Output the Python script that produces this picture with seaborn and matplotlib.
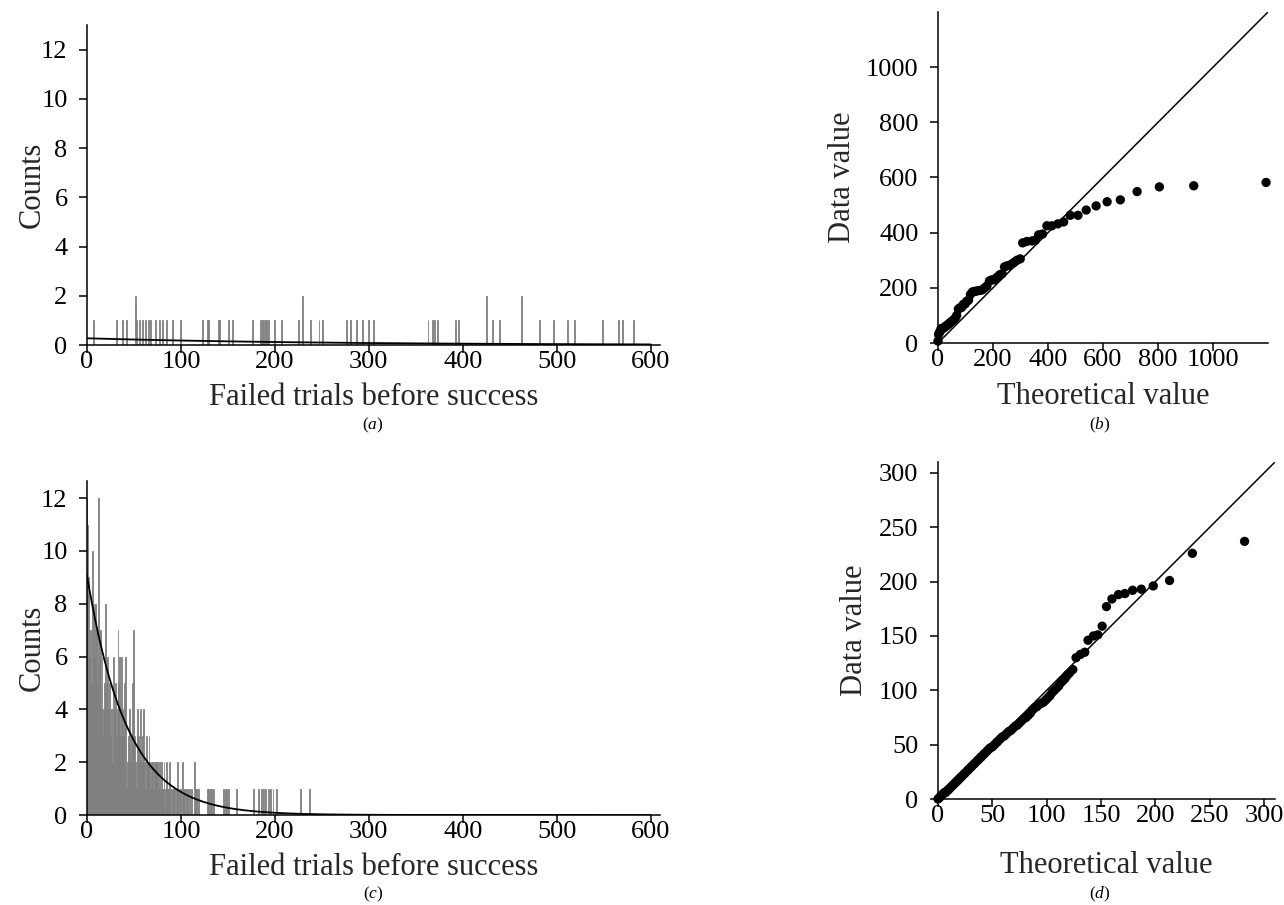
import numpy as np
import pandas as pd
import matplotlib
matplotlib.use("Agg")
import matplotlib.pyplot as plt
import seaborn as sns

# ---------------- data ----------------
# (a) failed trials before success (one entry per observation)
a_values = [7, 31, 38, 42, 52, 52, 53, 56, 59, 62, 65, 68, 73, 77, 80, 85, 91, 100,
            123, 128, 129, 140, 141, 151, 155, 176, 185, 187, 188, 190, 191, 193, 200,
            207, 225, 229, 229, 238, 247, 251, 276, 280, 281, 287, 293, 300, 305, 363,
            368, 370, 373, 392, 395, 425, 425, 432, 439, 463, 463, 482, 497, 512, 519,
            549, 566, 570, 582]

# (b) Q-Q: theoretical quantile for each sorted value of (a)
b_theory = [0, 2, 5, 8, 11, 15, 18, 22, 26, 30, 34, 38, 43, 48, 53, 58, 63, 68,
            74, 80, 86, 92, 98, 104, 111, 118, 125, 132, 139, 146, 154, 162, 170,
            178, 187, 196, 205, 214, 224, 233, 242, 251, 260, 269, 278, 287, 299, 308,
            323, 342, 354, 366, 380, 396, 414, 436, 457, 481, 509, 539, 575, 615, 663,
            724, 805, 930, 1193]

# (c) counts per number of failed trials, 0..119, plus sparse tail (count 1 each)
c_counts = [12, 11, 9, 6, 7, 5, 10, 8, 6, 8,
            7, 5, 12, 6, 7, 4, 6, 3, 4, 5,
            8, 5, 6, 4, 5, 3, 4, 2, 6, 4,
            5, 3, 4, 7, 5, 6, 3, 6, 4, 3,
            5, 6, 1, 2, 3, 4, 2, 3, 5, 2,
            7, 3, 2, 1, 4, 3, 2, 4, 2, 3,
            4, 2, 1, 3, 2, 2, 3, 2, 1, 2,
            2, 1, 2, 2, 2, 2, 1, 2, 1, 2,
            1, 1, 2, 0, 1, 2, 1, 1, 2, 1,
            0, 1, 1, 1, 0, 1, 2, 1, 0, 1,
            1, 0, 2, 1, 1, 0, 1, 1, 0, 1,
            0, 1, 0, 0, 2, 0, 1, 1, 0, 1]
c_tail = [128, 129, 131, 133, 135, 145, 147, 149, 151, 159, 177, 183, 186, 188,
          190, 193, 195, 198, 202, 227, 237]

# (d) Q-Q points (theoretical, data)
d_theory = [0, 1, 2, 3, 4, 5, 6, 7, 8, 9, 10, 11, 12, 13, 14, 15, 16, 17, 18, 19, 20, 21, 22,
            24, 25, 27, 28, 30, 31, 33, 34, 36, 37, 39, 40, 42, 43, 45, 47, 48, 50,
            52, 54, 55, 57, 59, 61, 63, 65, 67, 69, 71, 73, 75, 77, 79, 81, 83, 85, 87,
            89, 91, 93, 95, 97, 99, 101, 103, 105, 107, 109, 111, 113, 115, 117, 119, 121, 124,
            127, 131, 135, 138, 143, 147, 151, 155, 160, 166, 172, 179, 187, 198, 213, 234, 282]
d_data = [0, 1, 2, 3, 4, 5, 6, 6, 7, 8, 9, 10, 11, 12, 13, 14, 15, 16, 17, 18, 19, 20, 21,
          23, 24, 26, 27, 29, 30, 32, 33, 35, 36, 38, 39, 41, 42, 44, 46, 47, 48,
          50, 52, 53, 55, 57, 58, 60, 62, 63, 65, 67, 68, 70, 72, 74, 75, 77, 79, 82,
          84, 85, 87, 88, 89, 91, 93, 95, 98, 100, 102, 104, 107, 109, 111, 114, 116, 119,
          130, 133, 135, 146, 150, 151, 159, 177, 184, 188, 189, 192, 193, 196, 201, 226, 237]

x_ticks_hist = [0, 100, 200, 300, 400, 500, 600]
y_ticks_hist = [0, 2, 4, 6, 8, 10, 12]
b_ticks = [0, 200, 400, 600, 800, 1000]
d_ticks = [0, 50, 100, 150, 200, 250, 300]

# ---------------- style ----------------
sns.set_theme(style="ticks")
plt.rcParams["font.family"] = ["Liberation Serif", "DejaVu Serif"]
plt.rcParams["mathtext.fontset"] = "custom"
plt.rcParams["mathtext.rm"] = "Liberation Serif"
plt.rcParams["mathtext.it"] = "Liberation Serif:italic"

W, H = 1284, 905
fig = plt.figure(figsize=(W / 100, H / 100), dpi=100)
fig.patch.set_facecolor("white")


def ax_at(l, t, r, b):
    return fig.add_axes([l / W, 1 - b / H, (r - l) / W, (b - t) / H])


# pixel boxes (left, top, right, bottom)
box_a = (87, 25, 660, 345)
box_b = (938, 12, 1268, 343)
box_c = (87, 481, 660, 815)
box_d = (938, 462, 1275, 799)
ax_a = ax_at(*box_a)
ax_b = ax_at(*box_b)
ax_c = ax_at(*box_c)
ax_d = ax_at(*box_d)

LAB = 22
TICK = 19
GRAY = "#808080"


def style(ax):
    sns.despine(ax=ax)
    for s in ("left", "bottom"):
        ax.spines[s].set_color("black")
        ax.spines[s].set_linewidth(1.1)
    ax.tick_params(direction="out", length=6, width=1.1, colors="black",
                   labelsize=TICK)
    ax.tick_params(axis="x", pad=-2)
    ax.tick_params(axis="y", pad=8)
    ax.set_facecolor("white")


def place_labels(ax, box, xlab, ylab, xlab_y, ylab_x):
    l, t, r, b = box
    ax.set_xlabel(xlab, fontsize=LAB)
    ax.set_ylabel(ylab, fontsize=LAB)
    ax.xaxis.set_label_coords(0.5, -(xlab_y - b) / (b - t))
    ax.yaxis.set_label_coords((ylab_x - l) / (r - l), 0.5)
    ax.xaxis.label.set_va("center")
    ax.yaxis.label.set_va("center")
    ax.yaxis.label.set_ha("center")


def geom_curve(values, xmax):
    v = np.asarray(values, dtype=float)
    n = len(v)
    p = 1.0 / (1.0 + v.mean())
    xs = np.arange(0, xmax + 1)
    return xs, n * p * (1 - p) ** xs


# (a) histogram
sns.histplot(x=a_values, discrete=True, ax=ax_a, color=GRAY, alpha=1,
             edgecolor=GRAY, linewidth=0.6)
xs, ys = geom_curve(a_values, 600)
ax_a.plot(xs, ys, color="black", lw=1.3)
ax_a.set_xlim(0, 610)
ax_a.set_ylim(0, 13)
ax_a.set_xticks(x_ticks_hist)
ax_a.set_yticks(y_ticks_hist)
style(ax_a)
place_labels(ax_a, box_a, "Failed trials before success", "Counts", 397, 32)

# (c) histogram
c_values = list(np.repeat(np.arange(len(c_counts)), c_counts)) + c_tail
sns.histplot(x=c_values, discrete=True, ax=ax_c, color=GRAY, alpha=1,
             edgecolor=GRAY, linewidth=0.6)
xs, ys = geom_curve(c_values, 600)
ax_c.plot(xs, ys, color="black", lw=1.3)
ax_c.set_xlim(0, 610)
ax_c.set_ylim(0, 12.65)
ax_c.set_xticks(x_ticks_hist)
ax_c.set_yticks(y_ticks_hist)
style(ax_c)
place_labels(ax_c, box_c, "Failed trials before success", "Counts", 867, 32)

# (b) Q-Q plot
b_data = sorted(a_values)
ax_b.plot([0, 1200], [0, 1200], color="black", lw=1.1)
sns.scatterplot(x=b_theory, y=b_data, ax=ax_b, color="black", s=45,
                edgecolor="none", clip_on=False, zorder=3)
ax_b.set_xlim(0, 1200)
ax_b.set_ylim(0, 1200)
ax_b.set_xticks(b_ticks)
ax_b.set_yticks(b_ticks)
style(ax_b)
place_labels(ax_b, box_b, "Theoretical value", "Data value", 397, 843)

# (d) Q-Q plot
ax_d.plot([0, 310], [0, 310], color="black", lw=1.1)
sns.scatterplot(x=d_theory, y=d_data, ax=ax_d, color="black", s=45,
                edgecolor="none", clip_on=False, zorder=3)
ax_d.set_xlim(0, 310)
ax_d.set_ylim(0, 310)
ax_d.set_xticks(d_ticks)
ax_d.set_yticks(d_ticks)
style(ax_d)
place_labels(ax_d, box_d, "Theoretical value", "Data value", 865, 855)

# panel letters
for txt, x, y in [("a", 373, 425), ("b", 1100, 425), ("c", 373, 894), ("d", 1100, 894)]:
    fig.text(x / W, 1 - y / H, r"($\mathit{" + txt + r"}$)", ha="center",
             va="center", fontsize=12.5, color="black")

fig.savefig("out.png", dpi=100, facecolor="white")
